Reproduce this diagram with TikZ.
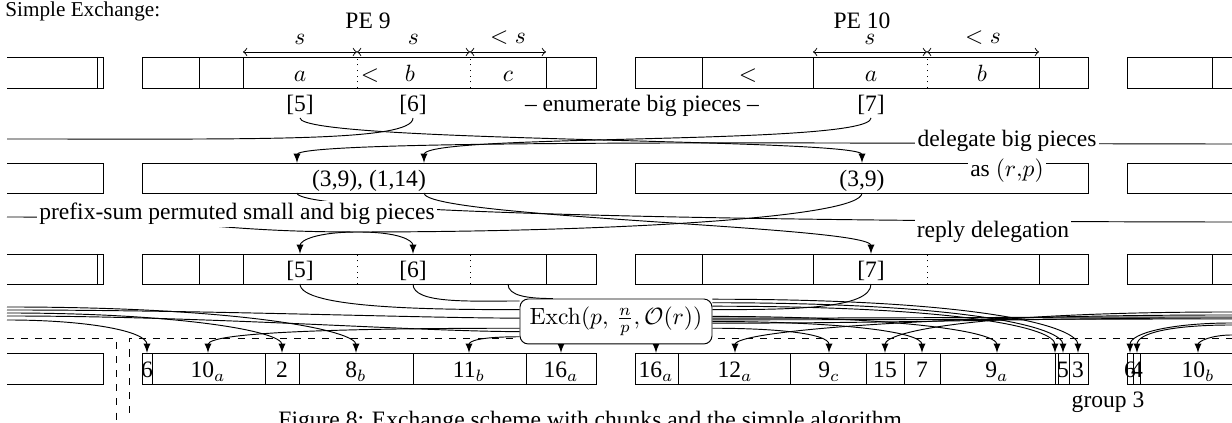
\documentclass[tikz,border=0pt]{standalone}
\usepackage[no-math]{fontspec}
\setmainfont{Liberation Serif}
\usetikzlibrary{backgrounds}

\begin{document}
\begin{tikzpicture}[x=0.425pt,y=0.425pt,
    dim/.style={<->,>=to},
    dimlbl/.style={above=2pt,inner sep=1pt},
    msg/.style={-latex},
    lbl/.style={inner sep=1pt,anchor=base},
    phase/.style={fill=white,inner sep=1pt,anchor=base}]
    \useasboundingbox (0,0) rectangle (1232,423);
    \node[anchor=base west,inner sep=0pt,font=\small] (title) at (5,406) {Simple Exchange:};
    \node[lbl] (pe9) at (368,394) {PE 9};
    \node[lbl] (pe10) at (862,394) {PE 10};

    % row 1: enumerate
    \draw (7,366) -- (103,366) -- (103,335) -- (7,335) (97,366) -- (97,335);
    \draw (142,335) rectangle (596,366);
    \draw (199,335) -- (199,366) (243,335) -- (243,366) (546,335) -- (546,366);
    \draw[dotted] (357,335) -- (357,366) (470,335) -- (470,366);
    \draw (635,335) rectangle (1088,366);
    \draw (702,335) -- (702,366) (813,335) -- (813,366) (1039,335) -- (1039,366);
    \draw[dotted] (927,335) -- (927,366);
    \draw (1232,366) -- (1127,366) -- (1127,335) -- (1232,335) (1212,335) -- (1212,366);
    \draw[dim] (243,371) -- node[dimlbl] {$s$} (357,371);
    \draw[dim] (357,371) -- node[dimlbl] {$s$} (470,371);
    \draw[dim] (470,371) -- node[dimlbl] {$<s$} (546,371);
    \draw[dim] (813,371) -- node[dimlbl] {$s$} (927,371);
    \draw[dim] (927,371) -- node[dimlbl] {$<s$} (1039,371);
    \node[lbl] (a9) at (300,341) {$a$};
    \node[lbl] (lt9) at (370,341) {$<$};
    \node[lbl] (b9) at (410,341) {$b$};
    \node[lbl] (c9) at (508,341) {$c$};
    \node[lbl] (lt10) at (748,341) {$<$};
    \node[lbl] (a10) at (871,341) {$a$};
    \node[lbl] (b10) at (982,341) {$b$};
    \node[lbl] (i5) at (300,311) {[5]};
    \node[lbl] (i6) at (413,311) {[6]};
    \node[lbl] (i7) at (871,311) {[7]};
    \node[lbl] (enum) at (642,311) {-- enumerate big pieces --};

    % row 2: delegated pieces
    \draw (7,260) -- (103,260) -- (103,230) -- (7,230);
    \draw (142,230) rectangle (596,260);
    \draw (635,230) rectangle (1088,260);
    \draw (1232,260) -- (1127,260) -- (1127,230) -- (1232,230);
    \node[lbl] (got9) at (369,236) {(3,9), (1,14)};
    \node[lbl] (got10) at (862,236) {(3,9)};
    \node[phase] (deleg) at (1007,276) {delegate big pieces};
    \node[phase] (asrp) at (1007,246) {as $(r{,}p)$};
    \node[phase] (psum) at (237,203) {prefix-sum permuted small and big pieces};
    \node[phase] (reply) at (993,185) {reply delegation};

    % row 3: replies
    \draw (7,169) -- (103,169) -- (103,139) -- (7,139) (97,169) -- (97,139);
    \draw (142,139) rectangle (596,169);
    \draw (199,139) -- (199,169) (243,139) -- (243,169) (546,139) -- (546,169);
    \draw[dotted] (357,139) -- (357,169) (470,139) -- (470,169);
    \draw (635,139) rectangle (1088,169);
    \draw (702,139) -- (702,169) (813,139) -- (813,169) (1039,139) -- (1039,169);
    \draw[dotted] (927,139) -- (927,169);
    \draw (1232,169) -- (1127,169) -- (1127,139) -- (1232,139) (1212,139) -- (1212,169);
    \node[lbl] (j5) at (300,145) {[5]};
    \node[lbl] (j6) at (413,145) {[6]};
    \node[lbl] (j7) at (871,145) {[7]};

    \node[draw,rounded corners=3.5pt,fill=white,minimum width=81.6pt,minimum height=19.1pt]
        (exch) at (616,101.5) {$\mathrm{Exch}(p,\,\frac{n}{p},\mathcal{O}(r))$};

    % row 4: after exchange
    \draw (7,70) -- (103,70) -- (103,39) -- (7,39);
    \draw (142,39) rectangle (596,70);
    \draw (152,39) -- (152,70) (265,39) -- (265,70) (299,39) -- (299,70) (413,39) -- (413,70) (526,39) -- (526,70);
    \draw (635,39) rectangle (1088,70);
    \draw (678,39) -- (678,70) (790,39) -- (790,70) (866,39) -- (866,70) (904,39) -- (904,70) (940,39) -- (940,70);
    \draw (1055,39) -- (1055,70) (1058,39) -- (1058,70) (1069,39) -- (1069,70);
    \draw (1232,70) -- (1127,70) -- (1127,39) -- (1232,39) (1133,39) -- (1133,70) (1140,39) -- (1140,70);
    \node[lbl] (q6) at (147,45) {6};
    \node[lbl] (q10a) at (208,45) {10$_a$};
    \node[lbl] (q2) at (282,45) {2};
    \node[lbl] (q8b) at (356,45) {8$_b$};
    \node[lbl] (q11b) at (469,45) {11$_b$};
    \node[lbl] (q16a) at (561,45) {16$_a$};
    \node[lbl] (r16a) at (656,45) {16$_a$};
    \node[lbl] (r12a) at (735,45) {12$_a$};
    \node[lbl] (r9c) at (829,45) {9$_c$};
    \node[lbl] (r15) at (885,45) {15};
    \node[lbl] (r7) at (922,45) {7};
    \node[lbl] (r9a) at (997,45) {9$_a$};
    \node[lbl] (r5) at (1063,45) {5};
    \node[lbl] (r3) at (1078,45) {3};
    \node[lbl] (s6) at (1130,45) {6};
    \node[lbl] (s4) at (1137,45) {4};
    \node[lbl] (s10b) at (1198,45) {10$_b$};
    \node[lbl] (grp) at (1108,15) {group 3};
    \node[anchor=base west,inner sep=0pt] (capt) at (278,-5) {Figure 8: Exchange scheme with chunks and the simple algorithm.};

    \coordinate (top3) at (0,169);
    \coordinate (bot3) at (0,139);
    \coordinate (top4) at (0,70);
    \coordinate (d1) at (297,260);
    \coordinate (d2) at (424,260);
    \coordinate (d3) at (862,260);
    \coordinate (g1) at (297,230);
    \coordinate (g2) at (424,230);
    \coordinate (g3) at (862,230);
    \coordinate (hump) at (358,191);
    \coordinate (bx) at (1055,70);
    \coordinate (wd) at (7,284);
    \coordinate (wp) at (7,206);
    \coordinate (w1) at (7,103);
    \coordinate (w2) at (7,110);
    \coordinate (w3) at (7,116);
    \coordinate (w4) at (7,113);
    \coordinate (w5) at (7,107);
    \coordinate (ed) at (1232,279);
    \coordinate (ep) at (1232,201);
    \coordinate (e1) at (1232,108);
    \coordinate (e2) at (1232,111);
    \coordinate (e3) at (1232,100);
    \coordinate (e4) at (1232,98);
    \coordinate (e5) at (1232,88);
    \coordinate (e6) at (1232,104);
    \coordinate (e7) at (1232,105);
    \coordinate (e8) at (1232,106);

    \begin{scope}[on background layer]
    \draw[dashed] (7,85) -- (116,85) -- (116,0);
    \draw[dashed] (129,10) -- (129,85) -- (1232,85);
    % delegate big pieces
    \draw[msg] (i5.south) .. controls +(0,-25) and +(0,25) .. (d3);
    \draw (i6.south) .. controls +(0,-24) and +(250,0) .. (wd);
    \draw[msg] (i7.south) .. controls +(0,-28) and +(0,30) .. (d2);
    \draw[msg] (ed) .. controls +(-300,0) and +(0,25) .. (d1);
    % reply delegation
    \draw[msg] (g3) .. controls +(0,-25) and +(250,0) .. (hump) .. controls +(-40,0) and +(0,14) .. (j5 |- top3);
    \draw[msg] (wp) .. controls +(180,0) and +(-150,0) .. (hump) .. controls +(40,0) and +(0,14) .. (j6 |- top3);
    \draw[msg] (g2) .. controls +(0,-25) and +(0,28) .. (j7 |- top3);
    \draw (g1) .. controls +(0,-25) and +(-250,0) .. (ep);
    % exchange
    \draw (j5 |- bot3) .. controls +(0,-25) and +(-80,0) .. (exch.173);
    \draw (j6 |- bot3) .. controls +(0,-20) and +(-50,0) .. (exch.168);
    \draw (c9 |- bot3) .. controls +(0,-12) and +(-25,0) .. (exch.160);
    \draw (j7 |- bot3) .. controls +(0,-25) and +(80,0) .. (exch.7);
    \draw[msg] (w1) .. controls +(80,0) and +(0,22) .. (q6 |- top4);
    \draw[msg] (w2) .. controls +(170,0) and +(0,22) .. (q2 |- top4);
    \draw[msg] (w3) .. controls +(240,0) and +(0,22) .. (q8b |- top4);
    \draw (w4) .. controls +(200,0) and +(-100,0) .. (exch.178);
    \draw (w5) .. controls +(200,0) and +(-100,0) .. (exch.186);
    \draw[msg] (exch.184) .. controls +(-150,0) and +(0,22) .. (q10a |- top4);
    \draw[msg] (exch.189) .. controls +(-40,0) and +(0,12) .. (q11b |- top4);
    \draw[msg] (q16a |- exch.south) -- (q16a |- top4);
    \draw[msg] (r16a |- exch.south) -- (r16a |- top4);
    \draw[msg] (exch.-4) .. controls +(60,0) and +(0,20) .. (r9c |- top4);
    \draw[msg] (exch.0) .. controls +(120,0) and +(0,22) .. (r7 |- top4);
    \draw[msg] (exch.3) .. controls +(180,0) and +(0,22) .. (r9a |- top4);
    \draw[msg] (exch.9) .. controls +(250,0) and +(0,25) .. (bx);
    \draw[msg] (exch.11) .. controls +(260,0) and +(0,25) .. (r5 |- top4);
    \draw[msg] (exch.13) .. controls +(280,0) and +(0,25) .. (r3 |- top4);
    \draw (exch.1) .. controls +(200,0) and +(-200,0) .. (e6);
    \draw (exch.-1) .. controls +(200,0) and +(-200,0) .. (e7);
    \draw (exch.2) .. controls +(200,0) and +(-200,0) .. (e8);
    \draw[msg] (e1) .. controls +(-300,0) and +(0,22) .. (r12a |- top4);
    \draw[msg] (e2) .. controls +(-250,0) and +(0,22) .. (r15 |- top4);
    \draw[msg] (e3) .. controls +(-60,0) and +(0,20) .. (s6 |- top4);
    \draw[msg] (e4) .. controls +(-60,0) and +(0,20) .. (s4 |- top4);
    \draw[msg] (e5) .. controls +(-20,0) and +(0,12) .. (s10b |- top4);
    \end{scope}
\end{tikzpicture}
\end{document}
